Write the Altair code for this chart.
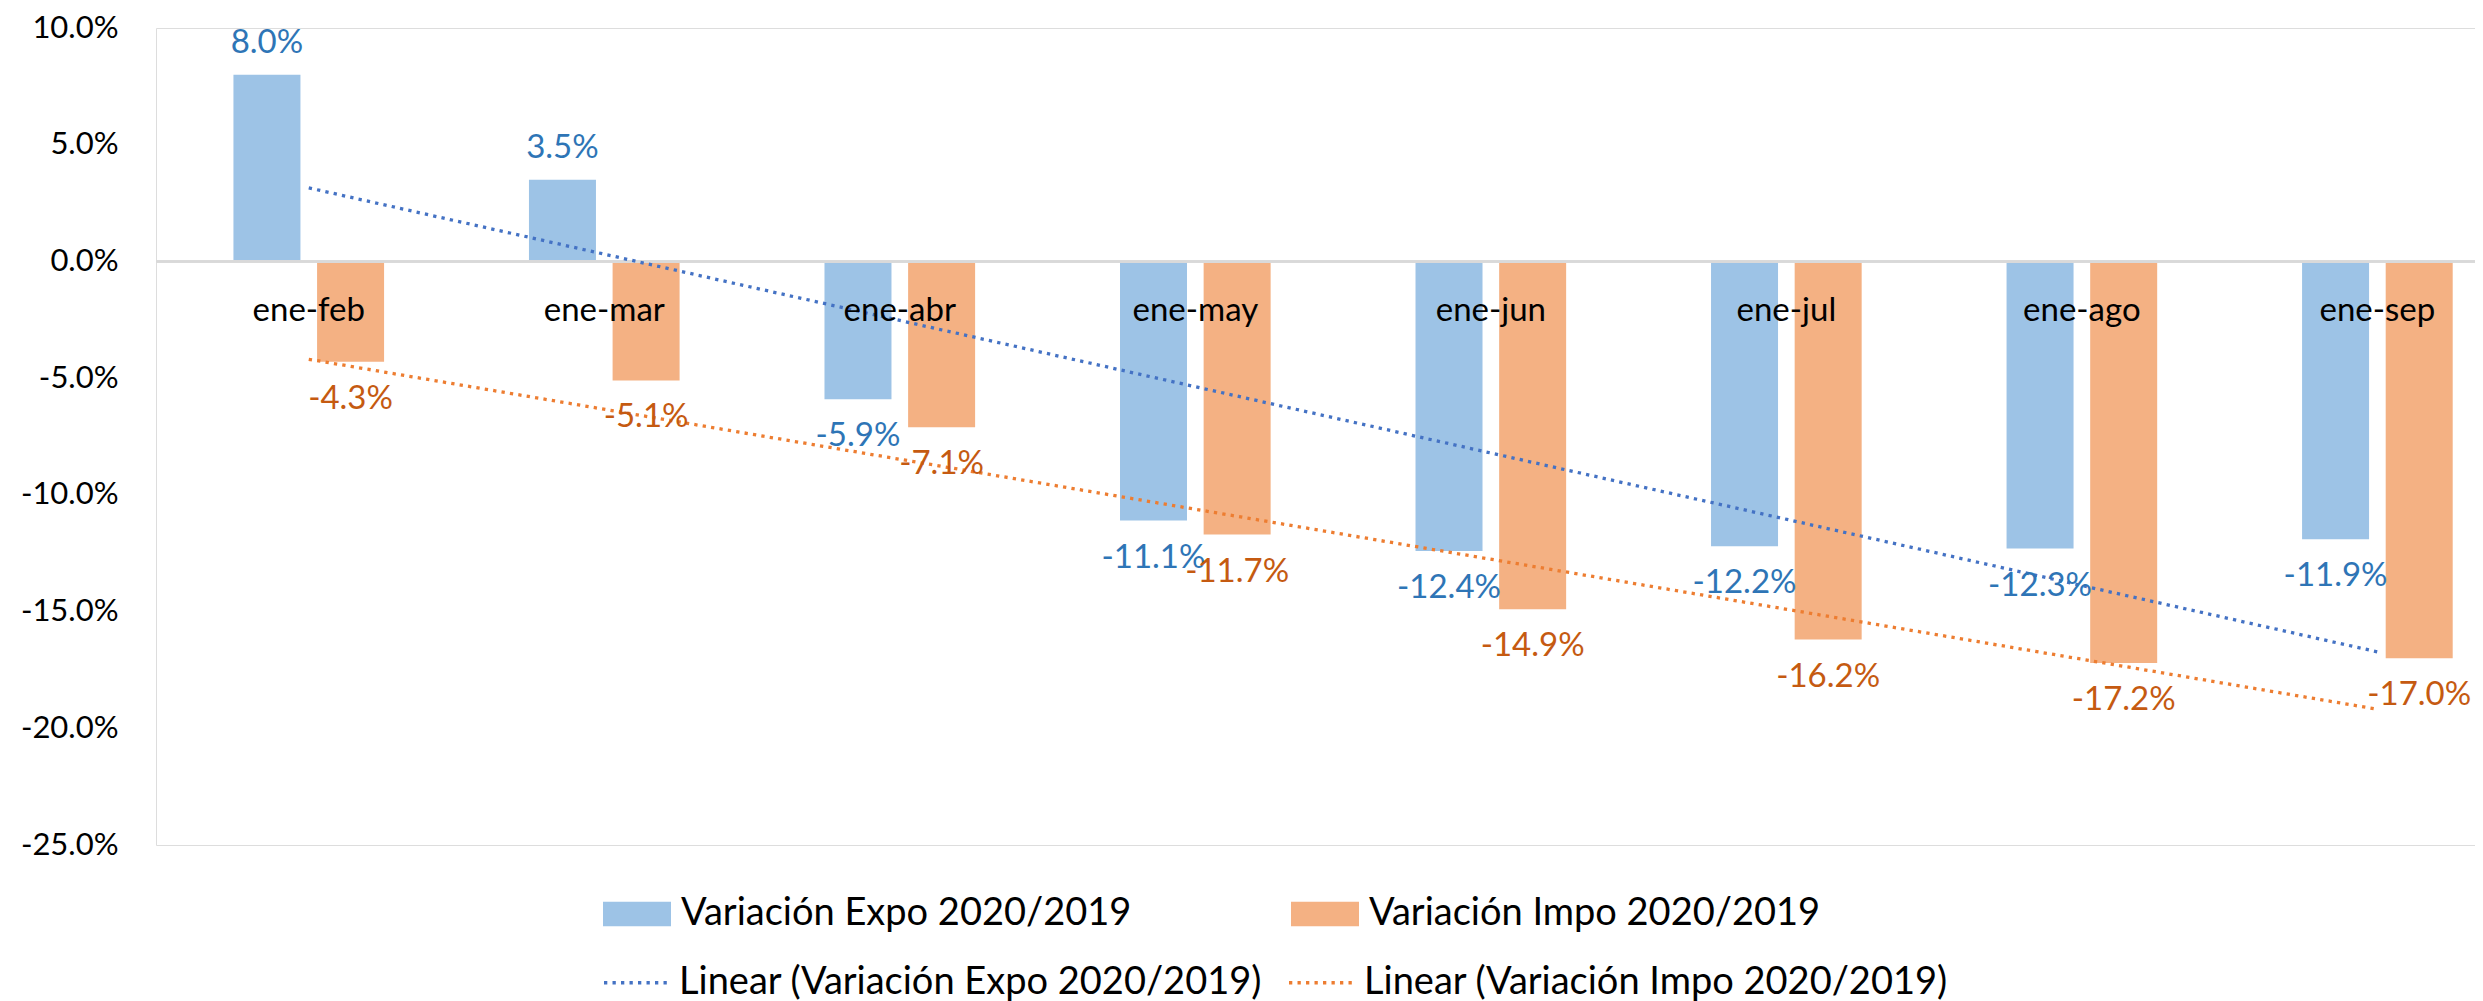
import altair as alt
import pandas as pd

categories = ["ene-feb", "ene-mar", "ene-abr", "ene-may", "ene-jun", "ene-jul", "ene-ago", "ene-sep"]
expo = [8.0, 3.5, -5.9, -11.1, -12.4, -12.2, -12.3, -11.9]
impo = [-4.3, -5.1, -7.1, -11.7, -14.9, -16.2, -17.2, -17.0]
series_names = ["Variación Expo 2020/2019", "Variación Impo 2020/2019"]
trend_names = ["Linear (Variación Expo 2020/2019)", "Linear (Variación Impo 2020/2019)"]
y_ticks = [0.10, 0.05, 0.0, -0.05, -0.10, -0.15, -0.20, -0.25]

bar_colors = ["#9DC3E6", "#F4B183"]
label_colors = ["#2E75B6", "#C55A11"]
trend_colors = ["#4472C4", "#ED7D31"]

rows = []
for s_i, (name, trend, vals) in enumerate(zip(series_names, trend_names, [expo, impo])):
    for i, (c, v) in enumerate(zip(categories, vals)):
        rows.append({"cat": c, "idx": i + 1, "series": name, "trend": trend,
                     "side": s_i, "value": v / 100.0})
df = pd.DataFrame(rows)

FONT = "Lato"
FS = 33
TFS = 31
LFS = 38

xscale = alt.Scale(domain=[0.5, 8.3134], nice=False, zero=False)
yscale = alt.Scale(domain=[-0.25, 0.10], nice=False, zero=False)
pct_expr = "replace(format(datum.value, '.1%'), '\u2212', '-')"
xpos_expr = "datum.idx + (datum.side - 0.5) * 0.283"

base = alt.Chart(df)

bars = base.transform_calculate(xpos=xpos_expr).mark_bar(width=67).encode(
    x=alt.X("xpos:Q", scale=xscale, axis=None),
    y=alt.Y("value:Q", scale=yscale,
            axis=alt.Axis(values=y_ticks, labelExpr=pct_expr, ticks=False, tickSize=0,
                          domain=False, grid=False, labelPadding=38, labelFontSize=TFS,
                          labelFont=FONT, labelColor="#000000", title=None)),
    y2=alt.datum(0),
    fill=alt.Fill("series:N", scale=alt.Scale(domain=series_names, range=bar_colors),
                  legend=alt.Legend(title=None, orient="none", legendX=447, legendY=852,
                                    direction="horizontal", padding=0,
                                    symbolType="M-1,-0.36H1V0.36H-1Z", symbolSize=4624,
                                    symbolStrokeWidth=0, labelFont=FONT, labelFontSize=LFS,
                                    labelColor="#000000", labelOffset=10, columnPadding=159,
                                    labelLimit=1000)),
)

zero_rule = alt.Chart(df).mark_rule(color="#D9D9D9", strokeWidth=2).encode(y=alt.datum(0))

trend = base.transform_regression("idx", "value", groupby=["trend"], extent=[1, 8]).mark_line(
    strokeDash=[3.3, 5.2], strokeWidth=3.3
).encode(
    x=alt.X("idx:Q", scale=xscale, axis=None),
    y=alt.Y("value:Q", scale=yscale),
    stroke=alt.Stroke("trend:N", scale=alt.Scale(domain=trend_names, range=trend_colors),
                      legend=alt.Legend(title=None, orient="none", legendX=446, legendY=919,
                                        direction="horizontal", padding=0,
                                        symbolType="stroke", symbolSize=4489,
                                        symbolDash=[3.3, 5.2], symbolStrokeWidth=3.3,
                                        labelFont=FONT, labelFontSize=LFS,
                                        labelColor="#000000", labelOffset=6,
                                        columnPadding=19, labelLimit=1000)),
)

label_color = alt.Color("series:N", scale=alt.Scale(domain=series_names, range=label_colors),
                        legend=None)

pos_labels = base.transform_filter("datum.value >= 0").transform_calculate(
    xpos=xpos_expr, label=pct_expr
).mark_text(baseline="alphabetic", dy=-22, fontSize=FS, font=FONT).encode(
    x=alt.X("xpos:Q", scale=xscale, axis=None),
    y=alt.Y("value:Q", scale=yscale),
    text="label:N",
    color=label_color,
)

neg_labels = base.transform_filter("datum.value < 0").transform_calculate(
    xpos=xpos_expr, label=pct_expr
).mark_text(baseline="alphabetic", dy=47, fontSize=FS, font=FONT).encode(
    x=alt.X("xpos:Q", scale=xscale, axis=None),
    y=alt.Y("value:Q", scale=yscale),
    text="label:N",
    color=label_color,
)

cat_labels = base.transform_filter("datum.side == 0").mark_text(
    baseline="alphabetic", dy=60, fontSize=FS, font=FONT, color="#000000"
).encode(
    x=alt.X("idx:Q", scale=xscale, axis=None),
    y=alt.datum(0),
    text="cat:N",
)

chart = alt.layer(bars, zero_rule, trend, pos_labels, neg_labels, cat_labels).properties(
    width=2319, height=817,
    padding={"left": 148, "top": 20, "right": 0, "bottom": 156},
    autosize=alt.AutoSizeParams(type="none"),
).configure_view(strokeWidth=0).configure(font=FONT)

chart.save("out.html", embed_options={"renderer": "svg", "actions": False})
